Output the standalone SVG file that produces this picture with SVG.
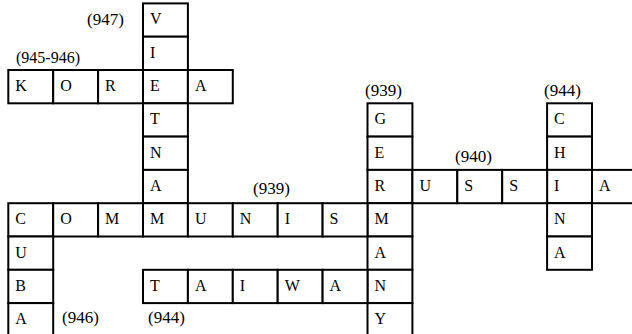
<svg xmlns="http://www.w3.org/2000/svg" width="632" height="334" viewBox="0 0 632 334">
<defs>
<rect id="c" width="44.9" height="33.3" fill="#fff" stroke="#000" stroke-width="2"/>
</defs>
<rect width="632" height="334" fill="#fff"/>
<g id="vietnam">
<use href="#c" x="143" y="3.4"/><text x="150" y="24.4" font-family="Liberation Serif" font-size="16">V</text>
<use href="#c" x="143" y="36.7"/><text x="150" y="57.7" font-family="Liberation Serif" font-size="16">I</text>
<use href="#c" x="143" y="70"/><text x="150" y="91" font-family="Liberation Serif" font-size="16">E</text>
<use href="#c" x="143" y="103.3"/><text x="150" y="124.3" font-family="Liberation Serif" font-size="16">T</text>
<use href="#c" x="143" y="136.6"/><text x="150" y="157.6" font-family="Liberation Serif" font-size="16">N</text>
<use href="#c" x="143" y="169.9"/><text x="150" y="190.9" font-family="Liberation Serif" font-size="16">A</text>
<use href="#c" x="143" y="203.2"/><text x="150" y="224.2" font-family="Liberation Serif" font-size="16">M</text>
</g>
<g id="korea">
<use href="#c" x="8.3" y="70"/><text x="15.3" y="91" font-family="Liberation Serif" font-size="16">K</text>
<use href="#c" x="53.2" y="70"/><text x="60.2" y="91" font-family="Liberation Serif" font-size="16">O</text>
<use href="#c" x="98.1" y="70"/><text x="105.1" y="91" font-family="Liberation Serif" font-size="16">R</text>
<use href="#c" x="187.9" y="70"/><text x="194.9" y="91" font-family="Liberation Serif" font-size="16">A</text>
</g>
<g id="germany">
<use href="#c" x="367.5" y="103.3"/><text x="374.5" y="124.3" font-family="Liberation Serif" font-size="16">G</text>
<use href="#c" x="367.5" y="136.6"/><text x="374.5" y="157.6" font-family="Liberation Serif" font-size="16">E</text>
<use href="#c" x="367.5" y="169.9"/><text x="374.5" y="190.9" font-family="Liberation Serif" font-size="16">R</text>
<use href="#c" x="367.5" y="203.2"/><text x="374.5" y="224.2" font-family="Liberation Serif" font-size="16">M</text>
<use href="#c" x="367.5" y="236.5"/><text x="374.5" y="257.5" font-family="Liberation Serif" font-size="16">A</text>
<use href="#c" x="367.5" y="269.8"/><text x="374.5" y="290.8" font-family="Liberation Serif" font-size="16">N</text>
<use href="#c" x="367.5" y="303.1"/><text x="374.5" y="324.1" font-family="Liberation Serif" font-size="16">Y</text>
</g>
<g id="china">
<use href="#c" x="547.1" y="103.3"/><text x="554.1" y="124.3" font-family="Liberation Serif" font-size="16">C</text>
<use href="#c" x="547.1" y="136.6"/><text x="554.1" y="157.6" font-family="Liberation Serif" font-size="16">H</text>
<use href="#c" x="547.1" y="169.9"/><text x="554.1" y="190.9" font-family="Liberation Serif" font-size="16">I</text>
<use href="#c" x="547.1" y="203.2"/><text x="554.1" y="224.2" font-family="Liberation Serif" font-size="16">N</text>
<use href="#c" x="547.1" y="236.5"/><text x="554.1" y="257.5" font-family="Liberation Serif" font-size="16">A</text>
</g>
<g id="russia">
<use href="#c" x="412.4" y="169.9"/><text x="419.4" y="190.9" font-family="Liberation Serif" font-size="16">U</text>
<use href="#c" x="457.3" y="169.9"/><text x="464.3" y="190.9" font-family="Liberation Serif" font-size="16">S</text>
<use href="#c" x="502.2" y="169.9"/><text x="509.2" y="190.9" font-family="Liberation Serif" font-size="16">S</text>
<use href="#c" x="592" y="169.9"/><text x="599" y="190.9" font-family="Liberation Serif" font-size="16">A</text>
</g>
<g id="communism">
<use href="#c" x="8.3" y="203.2"/><text x="15.3" y="224.2" font-family="Liberation Serif" font-size="16">C</text>
<use href="#c" x="53.2" y="203.2"/><text x="60.2" y="224.2" font-family="Liberation Serif" font-size="16">O</text>
<use href="#c" x="98.1" y="203.2"/><text x="105.1" y="224.2" font-family="Liberation Serif" font-size="16">M</text>
<use href="#c" x="187.9" y="203.2"/><text x="194.9" y="224.2" font-family="Liberation Serif" font-size="16">U</text>
<use href="#c" x="232.8" y="203.2"/><text x="239.8" y="224.2" font-family="Liberation Serif" font-size="16">N</text>
<use href="#c" x="277.7" y="203.2"/><text x="284.7" y="224.2" font-family="Liberation Serif" font-size="16">I</text>
<use href="#c" x="322.6" y="203.2"/><text x="329.6" y="224.2" font-family="Liberation Serif" font-size="16">S</text>
</g>
<g id="cuba">
<use href="#c" x="8.3" y="236.5"/><text x="15.3" y="257.5" font-family="Liberation Serif" font-size="16">U</text>
<use href="#c" x="8.3" y="269.8"/><text x="15.3" y="290.8" font-family="Liberation Serif" font-size="16">B</text>
<use href="#c" x="8.3" y="303.1"/><text x="15.3" y="324.1" font-family="Liberation Serif" font-size="16">A</text>
</g>
<g id="taiwan">
<use href="#c" x="143" y="269.8"/><text x="150" y="290.8" font-family="Liberation Serif" font-size="16">T</text>
<use href="#c" x="187.9" y="269.8"/><text x="194.9" y="290.8" font-family="Liberation Serif" font-size="16">A</text>
<use href="#c" x="232.8" y="269.8"/><text x="239.8" y="290.8" font-family="Liberation Serif" font-size="16">I</text>
<use href="#c" x="277.7" y="269.8"/><text x="284.7" y="290.8" font-family="Liberation Serif" font-size="16">W</text>
<use href="#c" x="322.6" y="269.8"/><text x="329.6" y="290.8" font-family="Liberation Serif" font-size="16">A</text>
</g>
<g id="labels">
<text x="87" y="25" font-family="Liberation Serif" font-size="17">(947)</text>
<text x="16" y="63" font-family="Liberation Serif" font-size="16">(945-946)</text>
<text x="365" y="96" font-family="Liberation Serif" font-size="17">(939)</text>
<text x="544" y="96" font-family="Liberation Serif" font-size="17">(944)</text>
<text x="455" y="162" font-family="Liberation Serif" font-size="17">(940)</text>
<text x="253" y="194" font-family="Liberation Serif" font-size="17">(939)</text>
<text x="62" y="323" font-family="Liberation Serif" font-size="17">(946)</text>
<text x="148" y="323" font-family="Liberation Serif" font-size="17">(944)</text>
</g>
</svg>
